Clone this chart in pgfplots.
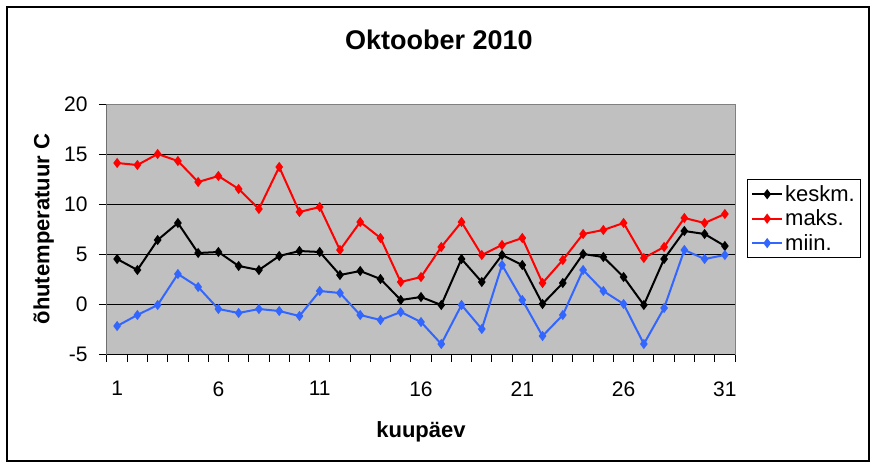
\documentclass[border=0pt]{standalone}
\usepackage{fontspec}
\setmainfont{Liberation Sans}
\usepackage{pgfplots}
\pgfplotsset{compat=1.18}
\definecolor{plotgray}{RGB}{192,192,192}
\definecolor{exred}{RGB}{255,0,0}
\definecolor{exblue}{RGB}{51,102,255}
\newcommand\tickfont{\fontsize{21pt}{25pt}\selectfont}
\newcommand\labfont{\fontsize{22pt}{26pt}\selectfont\bfseries}
\begin{document}
\begin{tikzpicture}
\useasboundingbox (-107pt,-113pt) rectangle (769pt,354pt);
\draw[black, line width=1.2pt] (-100pt,-107pt) rectangle (762pt,347pt);
\begin{axis}[
  scale only axis, width=628pt, height=250pt,
  at={(0pt,0pt)}, anchor=south west,
  xmin=0.5, xmax=31.5, ymin=-5, ymax=20,
  axis background/.style={fill=plotgray},
  axis line style={draw=gray, line width=1pt},
  xtick={0.5,1.5,...,31.5}, xticklabels={},
  extra x ticks={1,6,11,16,21,26,31},
  extra x tick labels={1,6,11,16,21,26,31},
  extra x tick style={major tick length=0pt, xticklabel style={yshift=-24pt}},
  ytick={-5,0,5,10,15,20},
  tick align=outside, xtick pos=bottom, ytick pos=left,
  major tick length=8pt,
  tick style={black, line width=1pt},
  ymajorgrids, major grid style={black, line width=1pt},
  tick label style={font=\tickfont},
  /pgf/number format/assume math mode=true,
  yticklabel style={xshift=-8pt},
  title={Oktoober 2010},
  title style={font=\fontsize{27pt}{32pt}\selectfont\bfseries, at={(axis description cs:0.5285,1.193)}, anchor=base},
  xlabel={kuupäev},
  xlabel style={font=\labfont, at={(axis description cs:0.5,-0.333)}, anchor=base},
  ylabel={õhutemperatuur C},
  ylabel style={font=\labfont, at={(axis description cs:-0.0916,0.5)}, anchor=base, rotate=0},
  legend style={at={(axis description cs:1.0186,0.70)}, anchor=north west,
    draw=black, line width=1pt, fill=white, font=\fontsize{22pt}{26pt}\selectfont,
    inner xsep=4pt, inner ysep=4pt, row sep=3pt},
  legend cell align=left,
  legend image code/.code={\draw[mark repeat=2,mark phase=2,#1] plot coordinates {(0pt,0pt) (15pt,0pt) (30pt,0pt)};},
  every axis plot/.append style={line width=2pt, mark=diamond*, mark size=3.5pt, mark options={solid}},
]
\addplot[black] coordinates {
(1,4.5) (2,3.4) (3,6.4) (4,8.1) (5,5.1) (6,5.2) (7,3.8) (8,3.4) (9,4.8) (10,5.3)
(11,5.2) (12,2.9) (13,3.3) (14,2.5) (15,0.4) (16,0.7) (17,-0.1) (18,4.5) (19,2.2) (20,4.9)
(21,3.9) (22,0.0) (23,2.1) (24,5.0) (25,4.7) (26,2.7) (27,-0.1) (28,4.5) (29,7.3) (30,7.0) (31,5.8)};
\addlegendentry{keskm.}
\addplot[exred] coordinates {
(1,14.1) (2,13.9) (3,15.0) (4,14.3) (5,12.2) (6,12.8) (7,11.5) (8,9.5) (9,13.7) (10,9.2)
(11,9.7) (12,5.4) (13,8.2) (14,6.6) (15,2.2) (16,2.7) (17,5.7) (18,8.2) (19,4.9) (20,5.9)
(21,6.6) (22,2.1) (23,4.4) (24,7.0) (25,7.4) (26,8.1) (27,4.6) (28,5.7) (29,8.6) (30,8.1) (31,9.0)};
\addlegendentry{maks.}
\addplot[exblue] coordinates {
(1,-2.2) (2,-1.1) (3,-0.1) (4,3.0) (5,1.7) (6,-0.5) (7,-0.9) (8,-0.5) (9,-0.7) (10,-1.2)
(11,1.3) (12,1.1) (13,-1.1) (14,-1.6) (15,-0.8) (16,-1.8) (17,-4.0) (18,-0.1) (19,-2.5) (20,3.9)
(21,0.4) (22,-3.2) (23,-1.1) (24,3.4) (25,1.3) (26,0.0) (27,-4.0) (28,-0.4) (29,5.4) (30,4.5) (31,4.9)};
\addlegendentry{miin.}
\draw[black, line width=1pt] (rel axis cs:0,1) -- (rel axis cs:0,0) -- (rel axis cs:1,0);
\end{axis}
\end{tikzpicture}
\end{document}
